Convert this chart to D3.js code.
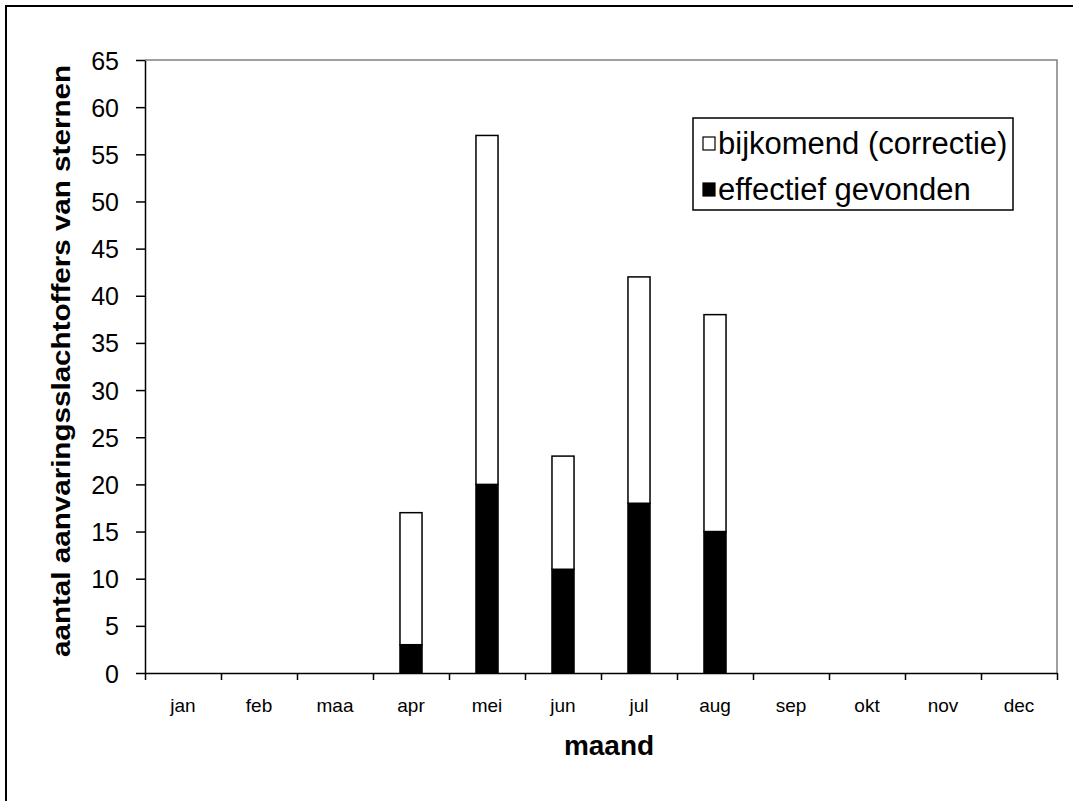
<!DOCTYPE html>
<html>
<head>
<meta charset="utf-8">
<script src="https://cdn.jsdelivr.net/npm/d3@7"></script>
<style>
  html, body { margin: 0; padding: 0; background: #fff; }
  svg { display: block; }
  text { font-family: "Liberation Sans", Arial, sans-serif; fill: #000; }
</style>
</head>
<body>
<svg id="chart" width="1073" height="801"></svg>
<script>
// ---- data ----
const months = ["jan","feb","maa","apr","mei","jun","jul","aug","sep","okt","nov","dec"];
const effectiefGevonden = [0,0,0,3,20,11,18,15,0,0,0,0];
const bijkomendCorrectie = [0,0,0,14,37,12,24,23,0,0,0,0];
const yTicks = [0,5,10,15,20,25,30,35,40,45,50,55,60,65];
const seriesNames = ["bijkomend (correctie)","effectief gevonden"];
const xTitle = "maand";
const yTitle = "aantal aanvaringsslachtoffers van sternen";

// ---- layout ----
const svg = d3.select("#chart");
const W = 1073, H = 801;
const plot = { left: 145, top: 60, right: 1057, bottom: 673 };

// outer frame (only left/top visible)
svg.append("rect").attr("x", 6).attr("y", 6).attr("width", W + 20).attr("height", H + 20)
  .attr("fill", "#fff").attr("stroke", "#000").attr("stroke-width", 2);

const x = d3.scaleBand().domain(months).range([plot.left, plot.right])
  .paddingInner(0.71).paddingOuter(0.355);
const xEdges = d3.scaleLinear().domain([0, months.length]).range([plot.left, plot.right]);
const y = d3.scaleLinear().domain([0, 65]).range([plot.bottom, plot.top]);

// plot area border (top/right gray)
svg.append("path")
  .attr("d", `M${plot.left},${plot.top}H${plot.right}V${plot.bottom}`)
  .attr("fill", "none").attr("stroke", "#808080").attr("stroke-width", 1.5);

// stacked data
const stackData = months.map((m, i) => ({ month: m, eff: effectiefGevonden[i], bij: bijkomendCorrectie[i] }));
const stack = d3.stack().keys(["eff", "bij"]);
const layers = stack(stackData);
const fills = { eff: "#000", bij: "#fff" };

svg.append("g").selectAll("g").data(layers).join("g")
  .attr("fill", d => fills[d.key])
  .selectAll("rect").data(d => d.filter(p => p[1] - p[0] > 0)).join("rect")
  .attr("x", d => x(d.data.month))
  .attr("width", x.bandwidth())
  .attr("y", d => y(d[1]))
  .attr("height", d => y(d[0]) - y(d[1]))
  .attr("stroke", "#000").attr("stroke-width", 1.5);

// y axis
const yAxis = svg.append("g").attr("transform", `translate(${plot.left},0)`)
  .call(d3.axisLeft(y).tickValues(yTicks).tickSize(9).tickPadding(17).tickSizeOuter(0));
yAxis.select(".domain").attr("stroke", "#000").attr("stroke-width", 1.5);
yAxis.selectAll(".tick line").attr("stroke", "#000").attr("stroke-width", 1.5);
yAxis.selectAll(".tick text").attr("font-size", 25).attr("font-family", "Liberation Sans, Arial, sans-serif")
  .attr("fill", "#222").attr("dy", "0.36em");

// x axis: ticks at category edges
const xAxisEdges = svg.append("g").attr("transform", `translate(0,${plot.bottom})`)
  .call(d3.axisBottom(xEdges).tickValues(d3.range(0, months.length + 1)).tickSize(7).tickFormat("").tickSizeOuter(0));
xAxisEdges.select(".domain").attr("stroke", "#000").attr("stroke-width", 1.5);
xAxisEdges.selectAll(".tick line").attr("stroke", "#000").attr("stroke-width", 1.5);

// x labels centered in categories
const xAxisLabels = svg.append("g").attr("transform", `translate(0,${plot.bottom})`)
  .call(d3.axisBottom(x).tickSize(0).tickPadding(26));
xAxisLabels.select(".domain").remove();
xAxisLabels.selectAll(".tick text").attr("font-size", 19).attr("font-family", "Liberation Sans, Arial, sans-serif")
  .attr("fill", "#222");

// axis titles
svg.append("text").attr("x", (plot.left + plot.right) / 2 + 8).attr("y", 755)
  .attr("text-anchor", "middle").attr("font-weight", "bold").attr("font-size", 28)
  .text(xTitle);

svg.append("text").attr("transform", `translate(70,361) rotate(-90)`)
  .attr("text-anchor", "middle").attr("font-weight", "bold").attr("font-size", 26)
  .attr("textLength", 592).attr("lengthAdjust", "spacingAndGlyphs")
  .text(yTitle);

// legend
const lg = svg.append("g");
lg.append("rect").attr("x", 693).attr("y", 118).attr("width", 320).attr("height", 92)
  .attr("fill", "#fff").attr("stroke", "#000").attr("stroke-width", 1.5);
const legendFills = ["#fff", "#000"];
seriesNames.forEach((name, i) => {
  const cy = 143 + i * 46;
  lg.append("rect").attr("x", 703).attr("y", cy - 6).attr("width", 12).attr("height", 13)
    .attr("fill", legendFills[i]).attr("stroke", "#000").attr("stroke-width", 1.2);
  lg.append("text").attr("x", 718).attr("y", cy + 11).attr("font-size", 31).attr("fill", "#222")
    .text(name);
});
</script>
</body>
</html>
